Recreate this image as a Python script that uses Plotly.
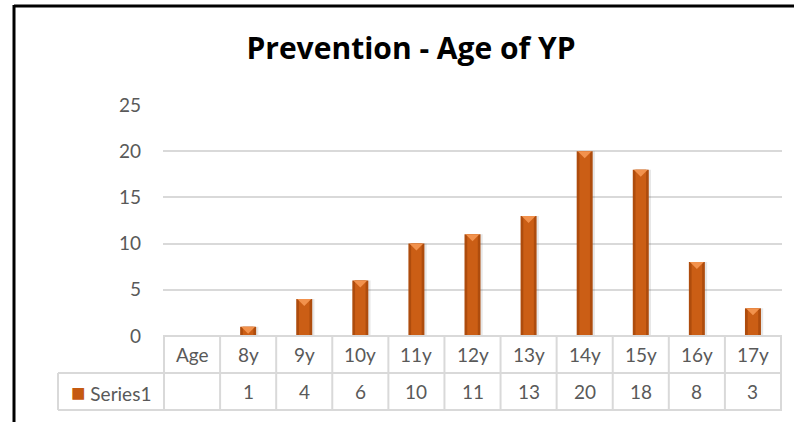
import plotly.graph_objects as go

# data
ages = ["Age", "8y", "9y", "10y", "11y", "12y", "13y", "14y", "15y", "16y", "17y"]
counts = [None, 1, 4, 6, 10, 11, 13, 20, 18, 8, 3]
y_ticks = [0, 5, 10, 15, 20, 25]
series_name = "Series1"

# page geometry (pixels)
W, H = 794, 422
PL, PR, PT, PB = 163, 782, 105, 336   # plot area edges
ROW = 37                              # data table row height
GRID = "#D9D9D9"
TXT = "#595959"
FONT = "Lato, Calibri, sans-serif"


def px(x):
    return (x - PL) / (PR - PL)


def py(y):
    return (PB - y) / (PB - PT)


fig = go.Figure()

bar_w = 0.285
# soft shadow to the right of each bar
fig.add_trace(go.Bar(
    x=ages, y=counts, width=bar_w, offset=-bar_w / 2 + 0.04,
    marker=dict(color="rgba(60,60,60,0.12)", line=dict(width=0)),
    hoverinfo="skip", showlegend=False,
))
# darker outer body
fig.add_trace(go.Bar(
    x=ages, y=counts, width=bar_w, offset=-bar_w / 2,
    marker=dict(color="#AE4C0D", line=dict(width=0)),
    hoverinfo="skip", showlegend=False,
))
# lighter middle
fig.add_trace(go.Bar(
    x=ages, y=counts, width=bar_w * 0.66, offset=-bar_w * 0.33,
    marker=dict(color="#CB5E15", line=dict(width=0)),
    name=series_name, showlegend=False,
))

fig.update_layout(
    width=W, height=H,
    barmode="overlay",
    paper_bgcolor="white", plot_bgcolor="white",
    margin=dict(l=PL, r=W - PR, t=PT, b=H - PB, pad=0),
    font=dict(family=FONT, color=TXT, size=19),
    title=dict(
        text="<b>Prevention - Age of YP</b>",
        xref="container", x=411 / W, xanchor="center",
        yref="container", y=1 - 48 / H, yanchor="middle",
        font=dict(size=30, color="black", family="Open Sans, sans-serif"),
    ),
    xaxis=dict(showticklabels=False, showgrid=False, zeroline=False,
               showline=False, fixedrange=True),
    yaxis=dict(range=[0, 25], tickvals=y_ticks, showgrid=True,
               gridcolor=GRID, gridwidth=2, zeroline=False, showline=False,
               ticks="", ticklabelstandoff=21,
               tickfont=dict(size=19, color=TXT, family=FONT)),
)

shapes = []
# bevelled top of each bar, anchored at the bar's value
for name, v in zip(ages, counts):
    if v:
        shapes.append(dict(type="path", xref="x", yref="y",
                           xsizemode="pixel", ysizemode="pixel",
                           xanchor=name, yanchor=v,
                           path="M-7,0 L7,0 L0,-7 Z",
                           fillcolor="#F2924D", line=dict(width=0),
                           layer="above"))
# data table: horizontal rules
y0, y1, y2 = 0, py(PB + ROW), py(PB + 2 * ROW)
for yy, x_left in [(y0, 0), (y1, px(58)), (y2, px(58))]:
    shapes.append(dict(type="line", xref="paper", yref="paper",
                       x0=x_left, x1=1, y0=yy, y1=yy,
                       line=dict(color=GRID, width=2)))
# vertical rules at the category boundaries
for i in range(len(ages) + 1):
    shapes.append(dict(type="line", xref="x", yref="paper",
                       x0=i - 0.5, x1=i - 0.5, y0=y0, y1=y2,
                       line=dict(color=GRID, width=2)))
shapes.append(dict(type="line", xref="paper", yref="paper",
                   x0=px(58), x1=px(58), y0=y1, y1=y2,
                   line=dict(color=GRID, width=2)))
# black frame at the top and left edge
shapes.append(dict(type="line", xref="paper", yref="paper",
                   x0=px(14), x1=px(W + 5), y0=py(6), y1=py(6),
                   line=dict(color="black", width=3)))
shapes.append(dict(type="line", xref="paper", yref="paper",
                   x0=px(14), x1=px(14), y0=py(5), y1=py(H + 5),
                   line=dict(color="black", width=3)))
fig.update_layout(shapes=shapes)

# table texts
for name, v in zip(ages, counts):
    fig.add_annotation(x=name, xref="x", yref="paper", y=(y0 + y1) / 2,
                       xanchor="center", yanchor="middle",
                       text=name, showarrow=False,
                       font=dict(size=19, color=TXT, family=FONT))
    fig.add_annotation(x=name, xref="x", yref="paper", y=(y1 + y2) / 2,
                       xanchor="center", yanchor="middle",
                       text="" if v is None else str(v), showarrow=False,
                       font=dict(size=19, color=TXT, family=FONT))
fig.add_annotation(x=px(111), xref="paper", yref="paper", y=(y1 + y2) / 2,
                   xanchor="center", yanchor="middle",
                   text="<span style='color:#C55A11;font-size:24px'>■</span> "
                        + series_name,
                   showarrow=False, font=dict(size=19, color=TXT, family=FONT))

fig.write_html("out.html", config={"displayModeBar": False},
               post_script="document.body.style.margin='0';")
